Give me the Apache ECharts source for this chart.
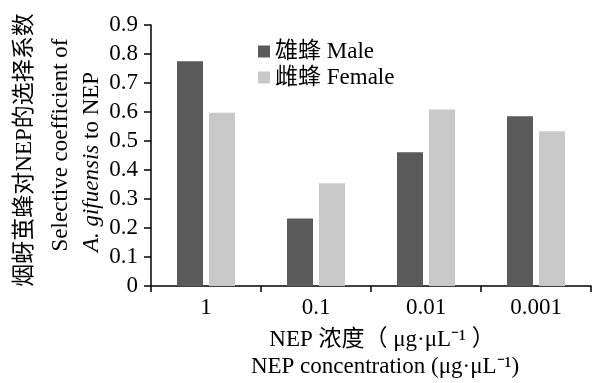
<!DOCTYPE html>
<html>
<head>
<meta charset="utf-8">
<script src="https://cdn.jsdelivr.net/npm/echarts@6/dist/echarts.min.js"></script>
<style>
  html, body { margin: 0; padding: 0; background: #fff; }
  #chart { width: 592px; height: 383px; }
</style>
</head>
<body>
<div id="chart"></div>
<script>
const categories = ['1', '0.1', '0.01', '0.001']
const maleValues = [0.775, 0.233, 0.461, 0.585]
const femaleValues = [0.597, 0.354, 0.609, 0.534]
const maleName = '雄蜂 Male'
const femaleName = '雌蜂 Female'

const FONT = '"Liberation Serif", "Times New Roman", "Noto Sans CJK SC", serif'
const FS = 23

const chart = echarts.init(document.getElementById('chart'))

const option = {
  animation: false,
  textStyle: { fontFamily: FONT, color: '#000' },
  grid: { left: 151, right: 1, top: 25, bottom: 97 },
  legend: {
    orient: 'vertical',
    left: 253,
    top: 35,
    itemWidth: 12,
    itemHeight: 12,
    itemGap: 3,
    itemTextGap: 6,
    icon: 'rect',
    textStyle: { fontFamily: FONT, fontSize: FS, color: '#000' },
    data: [maleName, femaleName]
  },
  xAxis: {
    type: 'category',
    data: categories,
    axisLine: { lineStyle: { color: '#000', width: 1.5 } },
    axisTick: { show: true, length: 6, lineStyle: { color: '#000', width: 1.5 } },
    axisLabel: { fontFamily: FONT, fontSize: FS, color: '#000', margin: 10 }
  },
  yAxis: {
    type: 'value',
    min: 0,
    max: 0.9,
    interval: 0.1,
    splitLine: { show: false },
    axisLine: { show: true, lineStyle: { color: '#000', width: 1.5 } },
    axisTick: { show: true, length: 7, lineStyle: { color: '#000', width: 1.5 } },
    axisLabel: {
      fontFamily: FONT, fontSize: FS, color: '#000', margin: 13,
      formatter: v => (v === 0 ? '0' : v.toFixed(1))
    }
  },
  series: [
    {
      name: maleName,
      type: 'bar',
      data: maleValues,
      barWidth: 26,
      barGap: '23%',
      itemStyle: { color: '#5a5a5a' }
    },
    {
      name: femaleName,
      type: 'bar',
      data: femaleValues,
      barWidth: 26,
      itemStyle: { color: '#c8c8c8' }
    }
  ],
  graphic: [
    // y 轴标题（三行，竖排）
    {
      type: 'text', x: 25, y: 150, rotation: Math.PI / 2,
      style: {
        text: '烟蚜茧蜂对NEP的选择系数',
        font: FS + 'px ' + FONT, fill: '#000',
        align: 'center', verticalAlign: 'middle'
      }
    },
    {
      type: 'text', x: 61, y: 145, rotation: Math.PI / 2,
      style: {
        text: 'Selective coefficient of',
        font: FS + 'px ' + FONT, fill: '#000',
        align: 'center', verticalAlign: 'middle'
      }
    },
    {
      type: 'text', x: 92, y: 162, rotation: Math.PI / 2,
      style: {
        text: '{i|A. gifuensis} to NEP',
        font: FS + 'px ' + FONT, fill: '#000',
        align: 'center', verticalAlign: 'middle',
        rich: { i: { fontStyle: 'italic', fontSize: FS, fontFamily: FONT } }
      }
    },
    // x 轴标题（两行）
    {
      type: 'text', x: 382, y: 340,
      style: {
        text: 'NEP 浓度（ μg·μL⁻¹ ）',
        font: FS + 'px ' + FONT, fill: '#000',
        align: 'center', verticalAlign: 'middle'
      }
    },
    {
      type: 'text', x: 385, y: 367,
      style: {
        text: 'NEP concentration (μg·μL⁻¹)',
        font: FS + 'px ' + FONT, fill: '#000',
        align: 'center', verticalAlign: 'middle'
      }
    }
  ]
}

chart.setOption(option)
</script>
</body>
</html>
